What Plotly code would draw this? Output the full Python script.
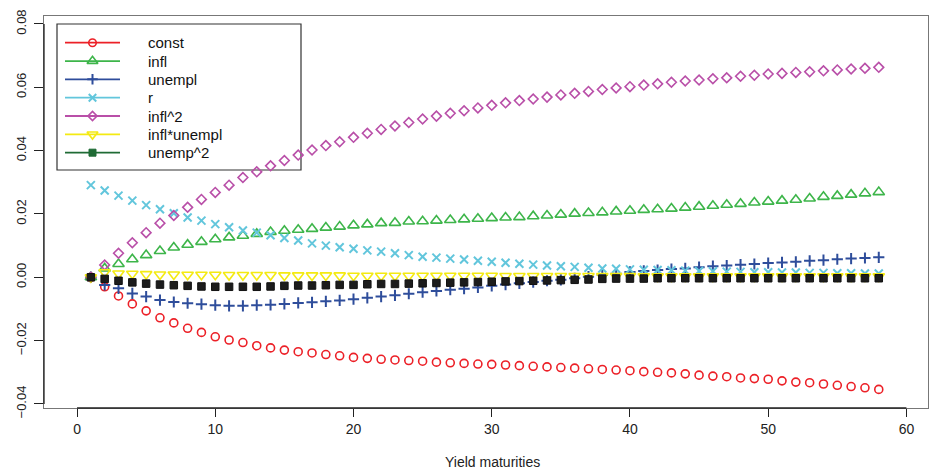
import plotly.graph_objects as go

maturities = list(range(1, 59))

const = [0, -0.0030, -0.0059, -0.0084, -0.0106, -0.0128, -0.0144, -0.0161, -0.0174, -0.0188,
         -0.0198, -0.0206, -0.0216, -0.0223, -0.0230, -0.0235, -0.0239, -0.0244, -0.0248, -0.0253,
         -0.0256, -0.0259, -0.0261, -0.0263, -0.0265, -0.0268, -0.0270, -0.0272, -0.0274, -0.0275,
         -0.0277, -0.0279, -0.0281, -0.0283, -0.0285, -0.0287, -0.0289, -0.0291, -0.0293, -0.0295,
         -0.0298, -0.0300, -0.0302, -0.0305, -0.0309, -0.0312, -0.0314, -0.0318, -0.0320, -0.0322,
         -0.0327, -0.0331, -0.0333, -0.0337, -0.0341, -0.0345, -0.0349, -0.0354]

infl = [0, 0.0028, 0.0042, 0.0057, 0.0070, 0.0083, 0.0094, 0.0103, 0.0112, 0.0120,
        0.0126, 0.0131, 0.0137, 0.0143, 0.0147, 0.0150, 0.0153, 0.0157, 0.0160, 0.0164,
        0.0167, 0.0171, 0.0172, 0.0176, 0.0177, 0.0179, 0.0181, 0.0183, 0.0185, 0.0187,
        0.0189, 0.0190, 0.0193, 0.0195, 0.0198, 0.0201, 0.0203, 0.0205, 0.0208, 0.0210,
        0.0213, 0.0215, 0.0217, 0.0220, 0.0223, 0.0226, 0.0229, 0.0232, 0.0236, 0.0239,
        0.0242, 0.0245, 0.0249, 0.0254, 0.0257, 0.0261, 0.0265, 0.0269]

unempl = [0, -0.0024, -0.0035, -0.0051, -0.0061, -0.0072, -0.0078, -0.0082, -0.0085, -0.0088,
          -0.0090, -0.0090, -0.0088, -0.0087, -0.0084, -0.0081, -0.0079, -0.0076, -0.0073, -0.0069,
          -0.0065, -0.0061, -0.0057, -0.0052, -0.0047, -0.0043, -0.0039, -0.0036, -0.0032, -0.0027,
          -0.0023, -0.0019, -0.0015, -0.0011, -0.0008, -0.0003, 0.0002, 0.0007, 0.0011, 0.0017,
          0.0020, 0.0023, 0.0026, 0.0028, 0.0032, 0.0035, 0.0037, 0.0040, 0.0042, 0.0045,
          0.0047, 0.0049, 0.0052, 0.0054, 0.0057, 0.0059, 0.0061, 0.0063]

r = [0.0291, 0.0274, 0.0258, 0.0242, 0.0228, 0.0215, 0.0202, 0.0189, 0.0179, 0.0168,
     0.0158, 0.0148, 0.0141, 0.0133, 0.0124, 0.0116, 0.0107, 0.0100, 0.0095, 0.0090,
     0.0085, 0.0081, 0.0076, 0.0070, 0.0065, 0.0062, 0.0059, 0.0056, 0.0052, 0.0049,
     0.0046, 0.0043, 0.0040, 0.0037, 0.0035, 0.0033, 0.0030, 0.0028, 0.0027, 0.0025,
     0.0024, 0.0023, 0.0022, 0.0021, 0.0020, 0.0019, 0.0018, 0.0017, 0.0016, 0.0016,
     0.0015, 0.0015, 0.0014, 0.0014, 0.0013, 0.0013, 0.0012, 0.0012]

infl_sq = [0, 0.0039, 0.0076, 0.0109, 0.0141, 0.0171, 0.0195, 0.0221, 0.0246, 0.0268,
           0.0291, 0.0315, 0.0333, 0.0352, 0.0369, 0.0386, 0.0402, 0.0416, 0.0428, 0.0442,
           0.0455, 0.0467, 0.0478, 0.0489, 0.0500, 0.0509, 0.0518, 0.0526, 0.0535, 0.0543,
           0.0551, 0.0558, 0.0563, 0.0569, 0.0576, 0.0581, 0.0587, 0.0593, 0.0598, 0.0602,
           0.0607, 0.0611, 0.0616, 0.0620, 0.0623, 0.0627, 0.0630, 0.0635, 0.0638, 0.0642,
           0.0644, 0.0647, 0.0649, 0.0652, 0.0655, 0.0658, 0.0660, 0.0663]

infl_unempl = [0, 0.0016, 0.0012, 0.0011, 0.0010, 0.0009, 0.0009, 0.0008, 0.0008, 0.0008,
               0.0007, 0.0007, 0.0007, 0.0007, 0.0006, 0.0006, 0.0006, 0.0006, 0.0006, 0.0005,
               0.0005, 0.0005, 0.0005, 0.0005, 0.0005, 0.0005, 0.0005, 0.0005, 0.0005, 0.0005,
               0.0004, 0.0004, 0.0004, 0.0004, 0.0004, 0.0004, 0.0004, 0.0004, 0.0004, 0.0004,
               0.0003, 0.0003, 0.0003, 0.0003, 0.0003, 0.0003, 0.0003, 0.0003, 0.0003, 0.0003,
               0.0003, 0.0003, 0.0003, 0.0003, 0.0003, 0.0003, 0.0003, 0.0003]

unemp_sq = [0, -0.0005, -0.0011, -0.0016, -0.0020, -0.0023, -0.0025, -0.0027, -0.0029, -0.0030,
            -0.0030, -0.0030, -0.0030, -0.0029, -0.0027, -0.0026, -0.0026, -0.0025, -0.0024, -0.0024,
            -0.0022, -0.0021, -0.0021, -0.0020, -0.0019, -0.0018, -0.0017, -0.0016, -0.0015, -0.0014,
            -0.0013, -0.0012, -0.0011, -0.0010, -0.0009, -0.0008, -0.0007, -0.0005, -0.0004, -0.0004,
            -0.0004, -0.0003, -0.0003, -0.0003, -0.0003, -0.0003, -0.0003, -0.0003, -0.0003, -0.0003,
            -0.0003, -0.0003, -0.0003, -0.0003, -0.0003, -0.0003, -0.0003, -0.0003]

series_names = ["const", "infl", "unempl", "r", "infl^2", "infl*unempl", "unemp^2"]
series_values = [const, infl, unempl, r, infl_sq, infl_unempl, unemp_sq]

x_ticks = [0, 10, 20, 30, 40, 50, 60]
y_ticks = [-0.04, -0.02, 0.00, 0.02, 0.04, 0.06, 0.08]
x_title = "Yield maturities"

# styles
colors = ["#EC2027", "#3DB54A", "#2E4D9B", "#62C6DC", "#B94FA8", "#F4EA12", "#1F6B35"]
plot_colors = ["#EC2027", "#3DB54A", "#2E4D9B", "#62C6DC", "#B94FA8", "#F4EA12", "#1C1C1C"]
symbols = ["circle-open", "triangle-up-open", "cross-thin-open", "x-thin-open",
           "diamond-open", "triangle-down-open", "square"]
sizes = [8, 10, 8, 8, 7.5, 10, 7.5]
widths = [1.6, 1.6, 2, 2, 1.6, 1.6, 1]

FONT = "Liberation Sans, Arial, Helvetica, sans-serif"
W, H = 929, 470
ML, MR, MT, MB = 44, 1, 16, 62
PW = W - ML - MR
PH = H - MT - MB
XR = [-2.39, -2.39 + PW / 13.823]
YR = [-0.04128, 0.08252]

fig = go.Figure()
for name, vals, col, sym, sz, lw in zip(series_names, series_values, plot_colors, symbols, sizes, widths):
    fig.add_trace(go.Scatter(
        x=maturities, y=vals, mode="markers", name=name, showlegend=False,
        marker=dict(symbol=sym, size=sz, color=col,
                    line=dict(color=col if sym != "square" else "#111111", width=lw)),
        cliponaxis=False,
    ))

def px_x(px):
    return (px - ML) / PW

def px_y(py):
    return (H - MB - py) / PH

shapes = []
# legend box
shapes.append(dict(type="rect", xref="paper", yref="paper",
                   x0=px_x(57), x1=px_x(301), y0=px_y(170), y1=px_y(24),
                   line=dict(color="#333333", width=1.2), fillcolor="white", layer="below"))
# axis lines (darker, between extreme ticks)
shapes.append(dict(type="line", xref="x", yref="paper", x0=x_ticks[0], x1=x_ticks[-1], y0=0, y1=0,
                   line=dict(color="#222222", width=1.3)))
shapes.append(dict(type="line", xref="paper", yref="y", x0=0, x1=0, y0=y_ticks[0], y1=y_ticks[-1],
                   line=dict(color="#222222", width=1.3)))

annotations = []
row_y0, row_dy = 42.7, 18.33
leg_x, leg_y = [], []
for i, name in enumerate(series_names):
    yy = row_y0 + i * row_dy
    shapes.append(dict(type="line", xref="paper", yref="paper",
                       x0=px_x(65), x1=px_x(120), y0=px_y(yy), y1=px_y(yy),
                       line=dict(color=colors[i], width=1.8)))
    annotations.append(dict(text=name, xref="paper", yref="paper", x=px_x(146), y=px_y(yy),
                            xanchor="left", yanchor="middle", showarrow=False,
                            font=dict(family=FONT, size=15, color="#111111")))
    leg_x.append(px_x(92.5))
    leg_y.append(px_y(yy))

for i in range(len(series_names)):
    fig.add_trace(go.Scatter(
        x=[leg_x[i]], y=[leg_y[i]], xaxis="x2", yaxis="y2", mode="markers", showlegend=False,
        marker=dict(symbol=symbols[i], size=sizes[i] - 0.5, color=colors[i],
                    line=dict(color=colors[i], width=widths[i])),
        hoverinfo="skip",
    ))

annotations.append(dict(text=x_title, xref="paper", yref="paper", x=px_x(492), y=0,
                        yshift=-54, xanchor="center", yanchor="middle", showarrow=False,
                        font=dict(family=FONT, size=14, color="#222222")))

fig.update_layout(
    width=W, height=H,
    margin=dict(l=ML, r=MR, t=MT, b=MB, pad=0),
    paper_bgcolor="white", plot_bgcolor="white",
    showlegend=False,
    shapes=shapes, annotations=annotations,
    xaxis=dict(range=XR, tickvals=x_ticks, ticktext=[str(v) for v in x_ticks],
               ticks="outside", ticklen=8, tickcolor="#222222", tickwidth=1.2,
               showgrid=False, zeroline=False, showline=True, mirror=True,
               linecolor="#777777", linewidth=1.2, ticklabelstandoff=0,
               tickfont=dict(family=FONT, size=14, color="#222222")),
    yaxis=dict(range=YR, tickvals=y_ticks, tickformat=".2f",
               ticks="outside", ticklen=9, tickcolor="#222222", tickwidth=1.2,
               showgrid=False, zeroline=False, showline=True, mirror=True,
               linecolor="#777777", linewidth=1.2, tickangle=-90, ticklabelstandoff=3,
               tickfont=dict(family=FONT, size=13, color="#222222")),
    xaxis2=dict(overlaying="x", range=[0, 1], visible=False, fixedrange=True),
    yaxis2=dict(overlaying="y", range=[0, 1], visible=False, fixedrange=True),
)

fig.write_html("out.html")
